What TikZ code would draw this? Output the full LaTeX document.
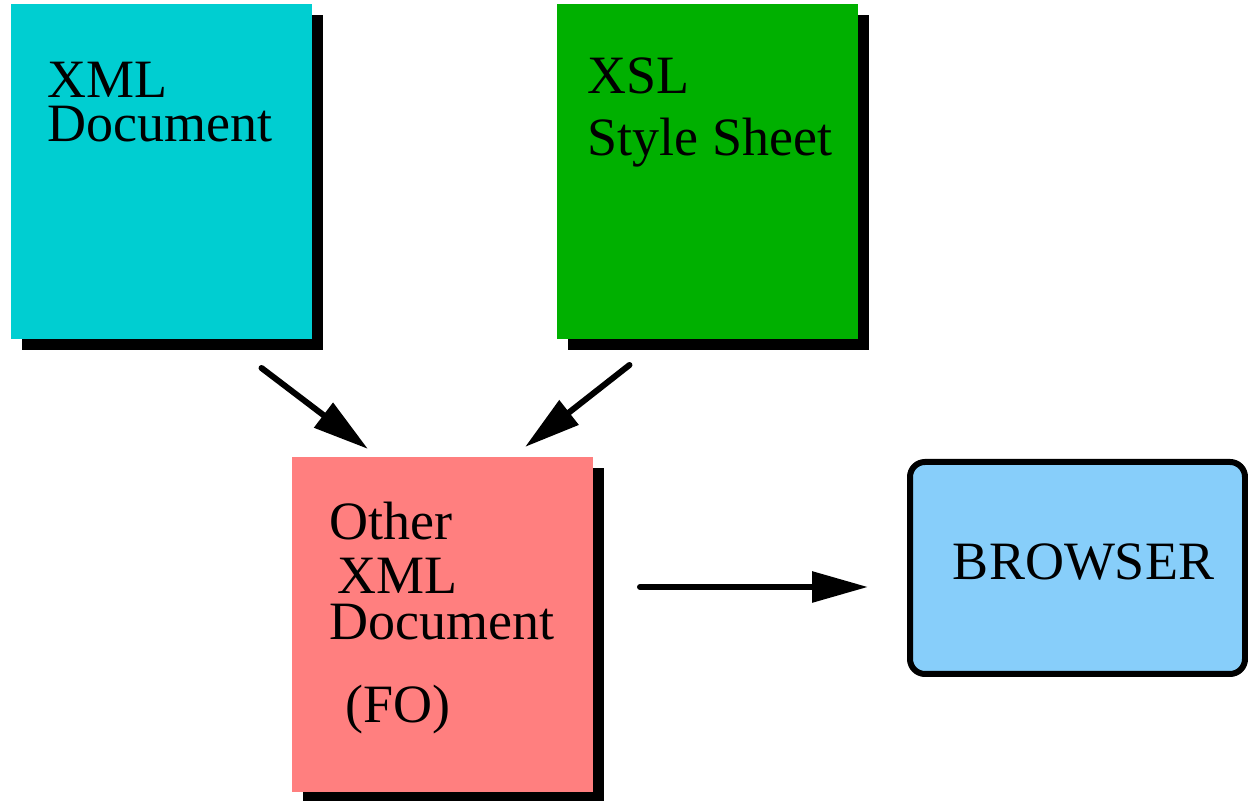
\documentclass[tikz,border=0pt]{standalone}
\usepackage{fontspec}
\setmainfont{Liberation Serif}
\usepackage{tikz}
\usetikzlibrary{arrows.meta,positioning,shadows}
\definecolor{xmlc}{HTML}{00CED1}
\definecolor{xslc}{HTML}{00B000}
\definecolor{foc}{HTML}{FF7F7F}
\definecolor{browc}{HTML}{87CEFA}
\tikzset{
  ar/.style={-{Triangle[length=28pt,width=15pt]},line width=3pt,line cap=round,black},
  docbox/.style={minimum width=150.5pt,minimum height=167.5pt,inner sep=0pt,outer sep=0pt,
    drop shadow={fill=black,opacity=1,shadow xshift=5.5pt,shadow yshift=-5.5pt}},
  lbl/.style={anchor=north west,inner sep=0pt,align=left,font=\fontsize{27pt}{22pt}\selectfont}
}
\begin{document}
\begin{tikzpicture}[x=0.5pt,y=0.5pt]
\useasboundingbox[fill=white] (0,0) rectangle (1248,801);
\node[docbox,fill=xmlc] (xml) at (161,629.5) {};
\node[docbox,fill=xslc] (xsl) at (707,629.5) {};
\node[docbox,fill=foc] (fo) at (442.5,176.5) {};
\node[draw=black,line width=3pt,rounded corners=7.5pt,fill=browc,minimum width=167.5pt,minimum height=106pt,
  inner sep=0pt,outer sep=0pt,text height=18pt,text depth=6.6pt,font=\fontsize{27pt}{22pt}\selectfont]
  (browser) at (1077.5,233) {\hspace*{6pt}BROWSER};
\node[lbl] (xmltxt) at ([shift={(37,-58)}]xml.north west) {XML\\Document};
\node[lbl] (xsltxt) at ([shift={(31,-53)}]xsl.north west) {XSL\\[9pt]Style Sheet};
\node[lbl] (fotxt) at ([shift={(37,-45)}]fo.north west)
  {Other\\[5pt]\hspace*{4pt}XML\\[1pt]Document\\[19.5pt]\hspace*{8pt}(FO)};
\draw[ar] ([shift={(-50,-29)}]xml.south east) -- ([shift={(76,8)}]fo.north west);
\draw[ar] ([shift={(73,-26)}]xsl.south west) -- ([shift={(-68,10)}]fo.north east);
\draw[ar] ([shift={(47,37.5)}]fo.east) -- ([shift={(-42,-19)}]browser.west);
\end{tikzpicture}
\end{document}
